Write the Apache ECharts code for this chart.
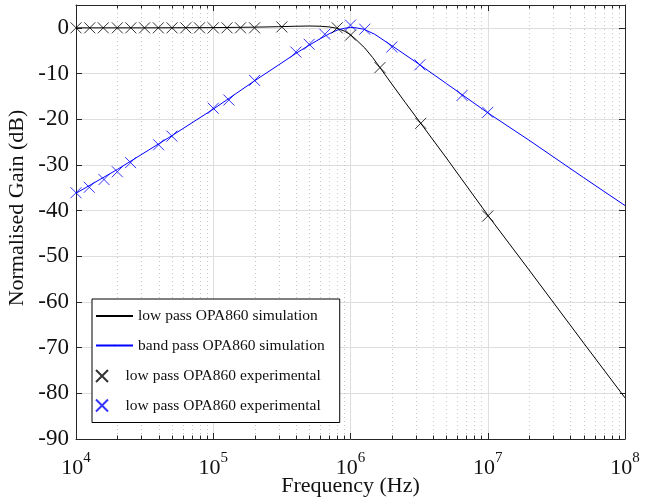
<!DOCTYPE html>
<html>
<head>
<meta charset="utf-8">
<script src="https://cdn.jsdelivr.net/npm/echarts@6/dist/echarts.min.js"></script>
<style>
html,body{margin:0;padding:0;background:#fff;}
#chart{width:654px;height:497px;}
</style>
</head>
<body>
<div id="chart"></div>
<script>
// ---- data ----
const lowPassSimFreq = [1e4, 3e4, 1e5, 2e5, 3e5, 4e5, 5e5, 6e5, 7e5, 8e5, 9e5, 1e6, 1.1e6, 1.27e6, 1.45e6, 1.64e6, 2e6, 2.5e6, 3.25e6, 5e6, 1e7, 2e7, 5e7, 1e8];
const lowPassSimGain = [0, 0, 0.05, 0.15, 0.25, 0.35, 0.4, 0.35, 0.2, -0.1, -0.7, -1.5, -2.6, -4.4, -6.5, -8.7, -12.3, -16.3, -20.9, -28.5, -41, -53, -69, -81];

const bandPassSimFreq = [1e4, 2e4, 5e4, 1e5, 2e5, 3e5, 4e5, 5e5, 6e5, 7e5, 8e5, 9e5, 1e6, 1.1e6, 1.25e6, 1.5e6, 2e6, 3e6, 5e6, 1e7, 2e7, 5e7, 1e8];
const bandPassSimGain = [-36.2, -31.0, -23.6, -17.8, -11.6, -8.1, -5.6, -3.8, -2.4, -1.3, -0.5, -0.1, 0.1, 0, -0.3, -1.4, -3.9, -7.5, -12.2, -18.6, -24.6, -32.8, -38.9];

const lowPassExpFreq = [10000, 12600, 15800, 20000, 25100, 31600, 39800, 50100, 63100, 79400, 100000, 126000, 158000, 200000, 316000, 800000, 1000000, 1640000, 3250000, 10000000];
const lowPassExpGain = [0, 0, 0, 0, 0, 0, 0, 0, 0, 0, 0, 0, 0, 0, 0.2, 0, -1.6, -8.7, -20.9, -41.2];

const bandPassExpFreq = [10000, 12500, 16000, 20000, 25000, 40000, 50000, 100000, 130000, 200000, 400000, 500000, 650000, 1000000, 1270000, 2000000, 3200000, 6500000, 10000000];
const bandPassExpGain = [-36.1, -34.9, -33.2, -31.5, -29.5, -25.6, -23.7, -17.6, -15.8, -11.5, -5.3, -3.6, -1.4, 0.6, -0.3, -4.2, -8.1, -14.8, -18.5];

const seriesNames = ['low pass OPA860 simulation', 'band pass OPA860 simulation', 'low pass OPA860 experimental', 'low pass OPA860 experimental\u200b'];

const xMin = 1e4, xMax = 1e8, yMin = -90, yMax = 5;

// minor tick positions of the log axis (2..9 x each decade)
const minorTicks = [];
for (let d = 4; d < 8; d++) {
  for (let m = 2; m <= 9; m++) minorTicks.push(m * Math.pow(10, d));
}

const FONT = "'Liberation Serif', 'Times New Roman', serif";
const AXIS_COLOR = '#262626';
const BLUE = '#0000ff';
const xMark = 'path://M0,0L10,10M10,0L0,10';

function zip(a, b) { return a.map((v, i) => [v, b[i]]); }

const chart = echarts.init(document.getElementById('chart'), null, {renderer: 'canvas'});

const axisLineStyle = {show: true, onZero: false, lineStyle: {color: AXIS_COLOR, width: 1}};
const tickStyle = {show: true, inside: true, length: 6, lineStyle: {color: AXIS_COLOR}};
const legendText = {fontFamily: FONT, fontSize: 15.5, color: '#111'};

const option = {
  backgroundColor: '#fff',
  animation: false,
  color: ['#000', BLUE, '#000', BLUE, '#888'],
  grid: {left: 76, right: 29, top: 5, bottom: 58, containLabel: false, outerBoundsMode: 'none'},
  legend: [{
    // simulation lines (box drawn around the whole legend)
    orient: 'vertical',
    left: 92, top: 299,
    padding: [9, 15, 69, 3],
    itemWidth: 37, itemHeight: 2, itemGap: 13.5,
    borderColor: '#000', borderWidth: 1, backgroundColor: '#fff',
    textStyle: legendText,
    z: 4,
    data: [seriesNames[0], seriesNames[1]]
  }, {
    // experimental markers
    orient: 'vertical',
    left: 92, top: 368,
    padding: [0, 6, 0, 3],
    itemWidth: 37, itemHeight: 12, itemGap: 13.5,
    borderWidth: 0, backgroundColor: 'transparent',
    textStyle: legendText,
    z: 5,
    data: [seriesNames[2], seriesNames[3]]
  }],
  xAxis: [{
    type: 'log', logBase: 10, min: xMin, max: xMax, position: 'bottom',
    splitNumber: 4,
    axisLine: axisLineStyle,
    axisTick: tickStyle,
    splitLine: {show: true, lineStyle: {color: '#dedede', width: 1}},
    axisLabel: {
      margin: 12,
      color: '#111',
      formatter: function (v) {
        const e = Math.round(Math.log10(v));
        return '{b|10}{s|' + e + '}';
      },
      rich: {
        b: {fontFamily: FONT, fontSize: 22, color: '#111', lineHeight: 28, verticalAlign: 'bottom'},
        s: {fontFamily: FONT, fontSize: 15, color: '#111', lineHeight: 18, verticalAlign: 'top'}
      }
    },
    name: 'Frequency (Hz)', nameLocation: 'middle', nameGap: 36, nameMoveOverlap: false,
    nameTextStyle: {fontFamily: FONT, fontSize: 22, color: '#111'}
  }, {
    type: 'log', logBase: 10, min: xMin, max: xMax, position: 'top',
    splitNumber: 4,
    axisLine: axisLineStyle,
    axisTick: tickStyle,
    splitLine: {show: false}, axisLabel: {show: false}
  }],
  yAxis: [{
    type: 'value', min: yMin, max: yMax, interval: 10, position: 'left',
    axisLine: axisLineStyle,
    axisTick: tickStyle,
    splitLine: {show: true, lineStyle: {color: '#dedede', width: 1}},
    axisLabel: {
      margin: 7, fontFamily: FONT, fontSize: 23, color: '#111',
      formatter: function (v) { return v === yMax ? '' : String(v); }
    },
    name: 'Normalised Gain (dB)', nameLocation: 'middle', nameGap: 48, nameRotate: 90, nameMoveOverlap: false,
    nameTextStyle: {fontFamily: FONT, fontSize: 22, color: '#111', padding: [0, 0, 0, 28]}
  }, {
    type: 'value', min: yMin, max: yMax, interval: 10, position: 'right',
    axisLine: axisLineStyle,
    axisTick: tickStyle,
    splitLine: {show: false}, axisLabel: {show: false}
  }],
  series: [{
    name: seriesNames[0], type: 'line', symbol: 'circle', showSymbol: false, z: 3,
    color: '#000',
    data: zip(lowPassSimFreq, lowPassSimGain),
    lineStyle: {color: '#000', width: 1}, itemStyle: {color: '#000'}
  }, {
    name: seriesNames[1], type: 'line', symbol: 'circle', showSymbol: false, z: 3,
    color: BLUE,
    data: zip(bandPassSimFreq, bandPassSimGain),
    lineStyle: {color: BLUE, width: 1}, itemStyle: {color: BLUE}
  }, {
    name: seriesNames[2], type: 'scatter', symbol: xMark, symbolSize: 11, symbolKeepAspect: true, z: 4,
    data: zip(lowPassExpFreq, lowPassExpGain),
    itemStyle: {color: 'rgba(0,0,0,0)', borderColor: '#000', borderWidth: 1}
  }, {
    name: seriesNames[3], type: 'scatter', symbol: xMark, symbolSize: 11, symbolKeepAspect: true, z: 4,
    data: zip(bandPassExpFreq, bandPassExpGain),
    itemStyle: {color: 'rgba(0,0,0,0)', borderColor: BLUE, borderWidth: 1}
  }, {
    type: 'custom', silent: true, z: 1,
    xAxisIndex: 0, yAxisIndex: 0,
    data: minorTicks.map(v => [v]),
    renderItem: function (params, api) {
      const top = api.coord([api.value(0), yMax]);
      const bot = api.coord([api.value(0), yMin]);
      const x = Math.round(top[0]) + 0.5;
      return {
        type: 'group',
        children: [
          {type: 'line', shape: {x1: x, y1: top[1], x2: x, y2: bot[1]},
           style: {stroke: '#c4c4c4', lineWidth: 1, lineDash: [1, 3]}},
          {type: 'line', shape: {x1: x, y1: bot[1], x2: x, y2: bot[1] - 3.5},
           style: {stroke: AXIS_COLOR, lineWidth: 1}},
          {type: 'line', shape: {x1: x, y1: top[1], x2: x, y2: top[1] + 3.5},
           style: {stroke: AXIS_COLOR, lineWidth: 1}}
        ]
      };
    }
  }]
};
chart.setOption(option);
</script>
</body>
</html>
